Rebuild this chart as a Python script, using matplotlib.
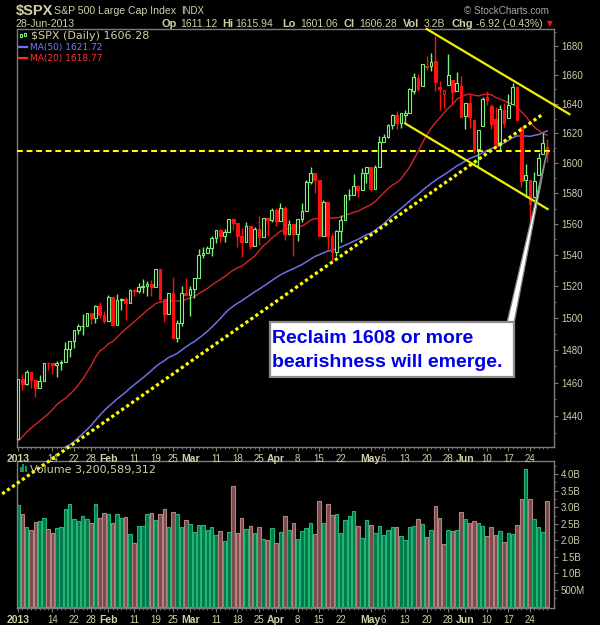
import numpy as np
import pandas as pd
import matplotlib
matplotlib.use("Agg")
import matplotlib.pyplot as plt
from matplotlib import patches
from matplotlib.ticker import FixedLocator, NullFormatter

plt.rcParams['font.family'] = ['Liberation Sans', 'DejaVu Sans']

# ---- $SPX daily, 2 Jan - 28 Jun 2013 ----
holidays = ['2013-01-01', '2013-01-21', '2013-02-18', '2013-03-29', '2013-05-27']
dates = pd.bdate_range('2013-01-02', '2013-06-28')
dates = dates[~dates.isin(pd.to_datetime(holidays))]

opens = [1426.19, 1462.42, 1459.37, 1466.47, 1461.89, 1457.15, 1461.02, 1472.12, 1472.05, 1470.67,
         1472.33, 1472.63, 1480.95, 1485.98, 1492.56, 1494.81, 1494.82, 1502.96, 1500.18, 1507.84, 1501.96,
         1498.11, 1513.17, 1495.71, 1511.29, 1512.12, 1509.39, 1517.93, 1517.01, 1519.43, 1520.33,
         1521.38, 1519.79, 1530.94, 1511.95, 1502.42, 1515.60, 1487.85, 1496.94, 1515.99,
         1514.68, 1518.20, 1525.20, 1539.79, 1541.46, 1544.26, 1551.15, 1556.22, 1552.48, 1554.52,
         1563.21, 1560.70, 1552.10, 1548.34, 1558.71, 1545.80, 1556.89, 1551.69, 1563.75, 1562.86,
         1569.18, 1562.17, 1570.25, 1553.69, 1559.98, 1553.26, 1563.11, 1568.61, 1587.73, 1593.30,
         1588.84, 1552.01, 1574.57, 1552.03, 1541.61, 1555.25, 1562.50, 1578.78, 1578.93, 1585.16, 1582.34, 1593.58,
         1597.55, 1582.77, 1597.60, 1614.40, 1617.55, 1625.95, 1632.69, 1626.69, 1632.10, 1633.75,
         1649.13, 1658.07, 1652.45, 1665.71, 1666.20, 1669.39, 1651.62, 1646.67, 1652.63, 1656.57, 1649.14, 1652.13,
         1631.71, 1640.73, 1629.05, 1609.29, 1625.27, 1644.67, 1638.64, 1629.94, 1612.15, 1635.52,
         1630.64, 1639.77, 1651.83, 1624.62, 1588.62, 1588.77, 1577.52, 1592.27, 1606.44, 1611.12]
highs = [1462.43, 1465.47, 1467.94, 1466.47, 1461.89, 1464.73, 1472.30, 1472.75, 1472.05, 1473.31,
         1473.96, 1485.16, 1485.98, 1492.56, 1496.13, 1502.27, 1503.26, 1503.23, 1507.94, 1509.94, 1504.19,
         1514.41, 1513.17, 1514.96, 1512.53, 1512.90, 1518.31, 1518.31, 1522.29, 1524.69, 1523.14,
         1524.24, 1530.94, 1530.94, 1511.95, 1515.64, 1525.84, 1498.99, 1520.08, 1525.34,
         1519.99, 1525.27, 1543.47, 1545.25, 1545.78, 1552.48, 1556.27, 1556.77, 1556.39, 1563.32,
         1563.62, 1560.70, 1557.25, 1561.56, 1558.71, 1557.74, 1564.91, 1563.95, 1564.07, 1570.28,
         1570.57, 1573.66, 1571.47, 1562.60, 1559.98, 1563.07, 1573.89, 1589.07, 1597.35, 1593.30,
         1588.84, 1575.35, 1574.57, 1554.38, 1555.89, 1565.55, 1579.58, 1583.00, 1592.64, 1585.78, 1596.65, 1597.57,
         1597.55, 1598.60, 1618.46, 1619.77, 1626.03, 1632.78, 1635.01, 1633.70, 1636.00, 1651.10,
         1661.49, 1660.51, 1667.47, 1672.84, 1674.93, 1687.18, 1655.82, 1649.78, 1674.21, 1656.57, 1661.91, 1658.99,
         1640.42, 1646.53, 1629.31, 1622.56, 1644.40, 1648.69, 1640.13, 1637.71, 1639.25, 1640.80,
         1646.50, 1654.19, 1652.45, 1624.62, 1599.19, 1588.77, 1593.79, 1606.83, 1620.07, 1615.94]
lows = [1426.19, 1455.53, 1458.99, 1456.62, 1451.64, 1457.15, 1461.02, 1467.58, 1465.69, 1463.76,
        1467.60, 1472.63, 1475.81, 1481.16, 1489.90, 1489.46, 1494.82, 1496.33, 1496.66, 1500.11, 1496.76,
        1498.11, 1495.02, 1495.71, 1504.71, 1498.49, 1509.39, 1513.61, 1515.61, 1515.93, 1514.02,
        1514.14, 1519.79, 1511.41, 1497.29, 1502.42, 1487.85, 1485.01, 1494.88, 1514.46,
        1501.48, 1512.29, 1525.20, 1538.11, 1541.46, 1539.28, 1547.36, 1548.24, 1548.25, 1554.52,
        1555.74, 1545.13, 1538.57, 1548.34, 1543.55, 1545.80, 1546.22, 1551.69, 1551.90, 1561.08,
        1558.47, 1562.17, 1549.80, 1552.52, 1539.50, 1548.63, 1560.92, 1568.61, 1586.17, 1579.97,
        1552.28, 1552.01, 1543.69, 1536.03, 1539.40, 1548.19, 1562.50, 1575.80, 1578.93, 1577.56, 1582.34, 1586.50,
        1581.28, 1582.77, 1597.60, 1614.21, 1616.64, 1622.70, 1623.09, 1623.71, 1626.74, 1633.75,
        1646.68, 1648.60, 1652.45, 1663.52, 1662.67, 1648.86, 1635.53, 1636.88, 1652.63, 1640.05, 1648.61, 1630.74,
        1622.72, 1623.62, 1607.09, 1598.23, 1625.27, 1639.26, 1622.92, 1610.92, 1608.07, 1623.96,
        1630.34, 1639.77, 1628.91, 1584.32, 1577.70, 1560.33, 1577.09, 1592.27, 1606.44, 1601.06]
closes = [1462.42, 1459.37, 1466.47, 1461.89, 1457.15, 1461.02, 1472.12, 1472.05, 1470.68, 1472.34,
          1472.63, 1480.94, 1485.98, 1492.56, 1494.81, 1494.82, 1502.96, 1500.18, 1507.84, 1501.96, 1498.11,
          1513.17, 1495.71, 1511.29, 1512.12, 1509.39, 1517.93, 1517.01, 1519.43, 1520.33, 1521.38,
          1519.79, 1530.94, 1511.95, 1502.42, 1515.60, 1487.85, 1496.94, 1515.99, 1514.68,
          1518.20, 1525.20, 1539.79, 1541.46, 1544.26, 1551.18, 1556.22, 1552.48, 1554.52, 1563.23,
          1560.70, 1552.10, 1548.34, 1558.71, 1545.80, 1556.89, 1551.69, 1563.77, 1562.85, 1569.19,
          1562.17, 1570.25, 1553.69, 1559.98, 1553.28, 1563.07, 1568.61, 1587.73, 1593.37, 1588.85,
          1552.36, 1574.57, 1552.01, 1541.61, 1555.25, 1562.50, 1578.78, 1578.79, 1585.16, 1582.24, 1593.61, 1597.57,
          1582.70, 1597.59, 1614.42, 1617.50, 1625.96, 1632.69, 1626.67, 1633.70, 1633.77, 1650.34,
          1658.78, 1650.47, 1667.47, 1666.29, 1669.16, 1655.35, 1650.51, 1649.60, 1660.06, 1648.36, 1654.41, 1630.74,
          1640.42, 1631.38, 1608.90, 1622.56, 1643.38, 1642.81, 1626.13, 1612.52, 1636.36, 1626.73,
          1639.04, 1651.81, 1628.93, 1588.19, 1592.43, 1573.09, 1588.03, 1603.26, 1613.20, 1606.28]
# volume, billions of shares
volume = [3.07, 2.80, 2.40, 2.31, 2.56, 2.59, 2.68, 2.34, 2.22, 2.37, 2.40, 2.95, 3.10, 2.65, 2.59, 2.74,
          2.65, 2.53, 3.10, 2.68, 2.83,
          2.80, 2.53, 2.80, 2.68, 2.71, 2.19, 1.92, 2.43, 2.43, 2.80, 2.83, 2.62, 2.80, 2.95, 2.40, 2.86,
          2.80, 2.40, 2.62,
          2.50, 2.25, 2.47, 2.47, 2.31, 2.40, 2.16, 2.28, 1.98, 2.25, 3.64, 2.22, 2.68, 2.34, 2.43, 2.22,
          2.40, 2.04, 2.01, 2.37,
          1.92, 2.25, 2.74, 2.31, 2.53, 2.04, 2.28, 2.37, 2.53, 2.19, 3.19, 2.53, 3.10, 2.77, 2.80, 2.22,
          2.62, 2.74, 2.89, 2.43, 2.07, 2.62,
          2.47, 2.22, 2.43, 2.16, 2.31, 2.40, 2.40, 2.13, 2.01, 2.40, 2.43, 2.65, 2.50, 2.10, 2.31, 3.04,
          2.68, 1.89, 2.31, 2.28, 2.31, 2.86,
          2.65, 2.53, 2.59, 2.53, 2.43, 2.13, 2.40, 2.16, 2.28, 1.95, 2.22, 2.19, 2.47, 3.25, 4.16, 3.25,
          2.65, 2.40, 2.25, 3.20]
last_volume = 3200589312

# closes before the window (18 Oct - 31 Dec 2012), needed for the moving averages
prior_closes = [1457.34, 1433.19, 1433.82, 1413.11, 1408.75, 1412.97, 1411.94, 1412.16,
                1427.59, 1414.20, 1417.26, 1428.39, 1394.53, 1377.51, 1379.85, 1380.03, 1374.53,
                1355.49, 1353.33, 1359.88, 1386.89, 1387.81, 1391.03, 1409.15, 1406.29, 1398.94,
                1409.93, 1415.95, 1416.18,
                1409.46, 1407.05, 1409.28, 1413.94, 1418.07, 1418.55, 1427.84, 1428.48, 1419.45,
                1413.58, 1430.36, 1446.79, 1435.81, 1443.69, 1430.15, 1426.66, 1419.83, 1418.10,
                1402.43, 1426.19]

# x axis labels
tick_dates = ['2013-01-02', '2013-01-14', '2013-01-22', '2013-01-28', '2013-02-01', '2013-02-11',
              '2013-02-19', '2013-02-25', '2013-03-01', '2013-03-11', '2013-03-18', '2013-03-25',
              '2013-04-01', '2013-04-08', '2013-04-15', '2013-04-22', '2013-05-01', '2013-05-06',
              '2013-05-13', '2013-05-20', '2013-05-28', '2013-06-03', '2013-06-10', '2013-06-17',
              '2013-06-24']
tick_labels = ['2013', '14', '22', '28', 'Feb', '11', '19', '25', 'Mar', '11', '18', '25', 'Apr',
               '8', '15', '22', 'May', '6', '13', '20', '28', 'Jun', '10', '17', '24']
price_ticks = list(range(1440, 1681, 20))
vol_ticks = [0.5, 1.0, 1.5, 2.0, 2.5, 3.0, 3.5, 4.0]
vol_tick_labels = ['500M', '1.0B', '1.5B', '2.0B', '2.5B', '3.0B', '3.5B', '4.0B']

# hand drawn lines: (trading day index, price)
support_line = ([-3.7, 122.0], [1394.0, 1633.0])
channel_top = ([95.0, 128.2], [1692.0, 1633.0])
channel_bottom = ([90.0, 123.1], [1626.7, 1569.7])
level = 1608
note = ['Reclaim 1608 or more', 'bearishness will emerge.']

# ---- derived ----
opens, highs, lows, closes = map(np.array, (opens, highs, lows, closes))
volume = np.array(volume)
n = len(closes)
x = np.arange(n)
all_close = pd.Series(np.r_[prior_closes, closes])
ma20 = all_close.rolling(20).mean().values[-n:]
ma50 = all_close.rolling(50).mean().values[-n:]
prev = np.r_[prior_closes[-1], closes[:-1]]
is_up = closes >= prev
tick_pos = [dates.get_loc(pd.Timestamp(d)) for d in tick_dates]

GREEN = '#7cf07c'
RED = '#ff1010'
TXT = '#d2cea8'
GRID = '#7c7c7c'
W, H = 600, 625


def fp(px, py):
    return px / W, 1 - py / H


fig = plt.figure(figsize=(6, 6.25), dpi=100, facecolor='black')
ax = fig.add_axes([17 / W, 1 - 447 / H, 537 / W, 418 / H], facecolor='black')
axv = fig.add_axes([17 / W, 1 - 608 / H, 537 / W, 147 / H], facecolor='black')
ax.set_zorder(3)
axv.set_zorder(1)

# candles
for i in range(n):
    c = GREEN if is_up[i] else RED
    ax.vlines(i, lows[i], highs[i], color=c, lw=1, zorder=2)
    lo_b, hi_b = min(opens[i], closes[i]), max(opens[i], closes[i])
    face = c if closes[i] < opens[i] else 'black'
    ax.add_patch(patches.Rectangle((i - 0.32, lo_b), 0.64, hi_b - lo_b, facecolor=face,
                                   edgecolor=c, lw=0.8, zorder=3))

ax.plot(x, ma50, color='#6f6fe6', lw=1.1, zorder=1.5)
ax.plot(x, ma20, color='#d02626', lw=1.0, zorder=1.5)

ax.set_yscale('log')
ax.set_ylim(1421.5, 1692)
ax.set_xlim(-0.25, 124.6)

# hand drawn annotation lines
ax.plot(*support_line, color='#ffff00', lw=2.3, linestyle=(0, (1, 0.9)),
        dash_capstyle='butt', clip_on=False, zorder=6)
ax.plot(*channel_top, color='#f0f000', lw=1.6, clip_on=False, zorder=6)
ax.plot(*channel_bottom, color='#f0f000', lw=1.6, clip_on=False, zorder=6)
ax.axhline(level, color='#ffff00', lw=1.5, linestyle=(0, (2.8, 1.8)), zorder=6)

# callout box with pointer
fig.canvas.draw()
tip = fig.transFigure.inverted().transform(ax.transData.transform((n - 1, level)))
wedge = patches.Polygon([fp(507, 323), fp(514, 323), tip], closed=True, transform=fig.transFigure,
                        facecolor='white', edgecolor='#8a8a8a', lw=0.9, clip_on=False, zorder=9)
ax.add_patch(wedge)
bx, by = fp(270, 377)
ax.add_patch(patches.Rectangle((bx, by), 244 / W, 55 / H, transform=fig.transFigure,
                               facecolor='white', edgecolor='#8c8c8c', lw=1.6,
                               clip_on=False, zorder=10))
for k, line in enumerate(note):
    ax.text(*fp(272, 338.5 + 24 * k), line, transform=fig.transFigure, color='#0000e8',
            fontsize=14, fontweight='bold', ha='left', va='center', zorder=11)

# volume
vcol = np.where(is_up, '#007a4c', '#7a4b4b')
vedge = np.where(is_up, '#25b473', '#b98282')
axv.bar(x, volume, width=0.82, color=vcol, edgecolor=vedge, linewidth=0.8)
axv.set_xlim(ax.get_xlim())
axv.set_ylim(-0.045, 4.4)

# axes styling
for a in (ax, axv):
    for s in a.spines.values():
        s.set_color(GRID)
        s.set_linewidth(1)
    a.yaxis.tick_right()
    a.xaxis.set_major_locator(FixedLocator(tick_pos))
    a.xaxis.set_minor_locator(FixedLocator(x))
    a.set_xticklabels(tick_labels)
    a.tick_params(axis='both', which='major', colors=GRID, labelcolor=TXT, length=3,
                  width=0.8, labelsize=7, pad=2)
    a.tick_params(axis='both', which='minor', colors=GRID, length=1.6, width=0.6)
    for t in a.get_xticklabels():
        if not t.get_text().isdigit() or t.get_text() == '2013':
            t.set_fontweight('bold')
            t.set_fontsize(7.5)

ax.yaxis.set_major_locator(FixedLocator(price_ticks))
ax.set_yticklabels([str(p) for p in price_ticks])
ax.yaxis.set_minor_locator(FixedLocator(range(1430, 1691, 10)))
ax.yaxis.set_minor_formatter(NullFormatter())
axv.yaxis.set_major_locator(FixedLocator(vol_ticks))
axv.set_yticklabels(vol_tick_labels)
axv.yaxis.set_minor_locator(FixedLocator(np.arange(0.25, 4.4, 0.5)))

# legends inside panels
ax.vlines([20.5, 24.5], [1 - 39 / H] * 2, [1 - 32 / H] * 2, transform=fig.transFigure,
          color=GREEN, lw=0.8, zorder=8)
for cx, top in ((19.5, 34), (23.5, 33)):
    ax.add_patch(patches.Rectangle(fp(cx, top + 3), 2 / W, 3 / H, transform=fig.transFigure,
                                   facecolor='black', edgecolor=GREEN, lw=0.8, zorder=9))
fig.text(*fp(31, 36), '$SPX (Daily) %.2f' % closes[-1], color=TXT, fontsize=8,
         family='DejaVu Sans', va='center')
ax.plot([19 / W, 27 / W], [1 - 47 / H] * 2, transform=fig.transFigure, color='#7070ff', lw=1.6,
        clip_on=False, zorder=8)
fig.text(*fp(30, 47.5), 'MA(50) %.2f' % ma50[-1], color='#7878ff', fontsize=6.5,
         family='DejaVu Sans', va='center')
ax.plot([19 / W, 27 / W], [1 - 58 / H] * 2, transform=fig.transFigure, color='#ff2a2a', lw=1.6,
        clip_on=False, zorder=8)
fig.text(*fp(30, 58.5), 'MA(20) %.2f' % ma20[-1], color='#ff3030', fontsize=6.5,
         family='DejaVu Sans', va='center')

for bxp, bh in ((19.5, 5), (22, 8), (24.5, 6)):
    fig.patches.append(patches.Rectangle(fp(bxp, 472), 2 / W, bh / H, transform=fig.transFigure,
                                         facecolor='#0a9a5a', edgecolor='none', zorder=8))
fig.text(*fp(30, 469.5), 'Volume {:,}'.format(last_volume), color=TXT, fontsize=8,
         family='DejaVu Sans', va='center', zorder=8)

# header
fig.text(*fp(16, 15), '$SPX', color=TXT, fontsize=10.5, fontweight='bold', va='baseline')
fig.text(*fp(54, 14.5), 'S&P 500 Large Cap Index', color=TXT, fontsize=7.6, va='baseline')
fig.text(*fp(181.5, 14.5), 'INDX', color=TXT, fontsize=7, va='baseline')
fig.text(*fp(16, 27), dates[-1].strftime('%d-%b-%Y'), color=TXT, fontsize=7.6, va='baseline')
fig.text(*fp(464, 14), '\u00a9 StockCharts.com', color='#a8a89c', fontsize=7.1, va='baseline')

chg = closes[-1] - closes[-2]
header = [(161, 'Op', True), (180, '%.2f' % opens[-1], False),
          (222, 'Hi', True), (235, '%.2f' % highs[-1], False),
          (282, 'Lo', True), (300, '%.2f' % lows[-1], False),
          (343.5, 'Cl', True), (359, '%.2f' % closes[-1], False),
          (402.5, 'Vol', True), (424, '%.1fB' % volume[-1], False),
          (451.5, 'Chg', True), (475.5, '%.2f (%.2f%%)' % (chg, 100 * chg / closes[-2]), False)]
for hx, txt, bold in header:
    fig.text(*fp(hx, 27), txt, color=TXT, fontsize=7.9 if bold else 7.5,
             fontweight='bold' if bold else 'normal', va='baseline')
fig.text(*fp(549.5, 23.5), '\u25bc', color='#ff1010', fontsize=5.5, family='DejaVu Sans',
         ha='center', va='center')

fig.savefig('out.png', dpi=100, facecolor='black')
